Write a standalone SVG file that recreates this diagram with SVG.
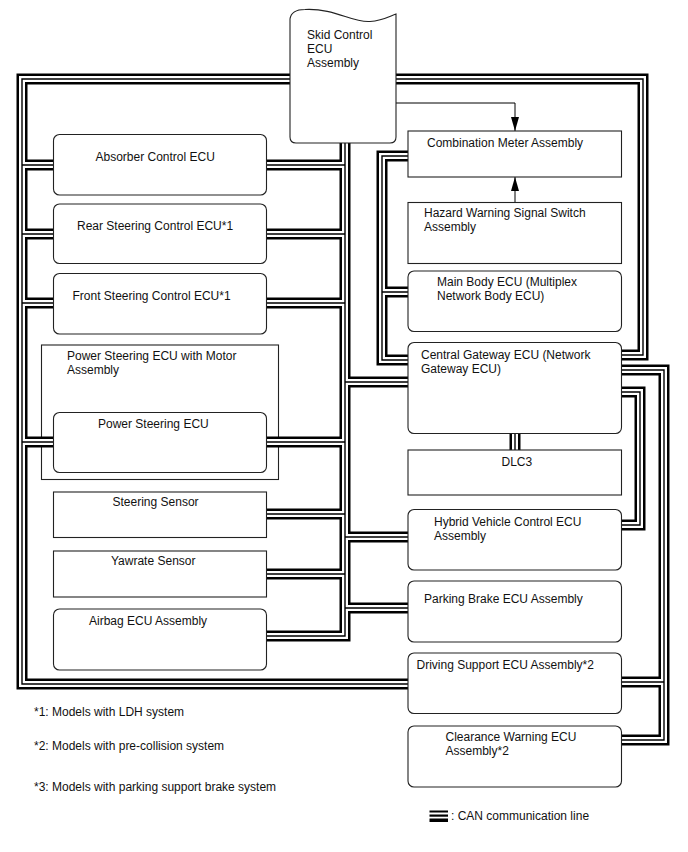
<svg xmlns="http://www.w3.org/2000/svg" width="688" height="852" viewBox="0 0 688 852">
<style>
.box{fill:#fff;stroke:#222;stroke-width:1.1}
.frame{fill:none;stroke:#222;stroke-width:1.1}
text{font-family:"Liberation Sans",Arial,sans-serif;font-size:12px;fill:#111}
.can-o{fill:none;stroke:#000;stroke-width:11;stroke-linejoin:miter;stroke-linecap:butt}
.can-g{fill:none;stroke:#fff;stroke-width:6;stroke-linejoin:miter;stroke-linecap:butt}
.can-c{fill:none;stroke:#000;stroke-width:1.4;stroke-linejoin:miter;stroke-linecap:butt}
.sig{fill:none;stroke:#000;stroke-width:1}
</style>
<defs>
<marker id="ah" viewBox="0 0 14 8" refX="14" refY="4" markerWidth="14" markerHeight="8" markerUnits="userSpaceOnUse" orient="auto">
<path d="M0,0 L14,4 L0,8 Z" fill="#000"/>
</marker>
<g id="bus">
<path d="M410,684 H22 V79 H643 V355 H619"/>
<path d="M22,165 H55 M22,234 H55 M22,303 H55 M22,442 H55"/>
<path d="M345,79 V636 H265"/>
<path d="M345,165 H265 M345,234 H265 M345,303 H265 M345,442 H265 M345,514 H265 M345,574 H265"/>
<path d="M345,382 H410 M345,537 H410 M345,608 H410"/>
<path d="M410,156 H382 V360 H410 M382,292 H410"/>
<path d="M619,370 H664 V740 H619 M619,682 H664"/>
<path d="M619,392 H640 V525 H619"/>
<path d="M515,431 V452"/>
</g>
</defs>

<g id="ps-motor-assembly">
<rect class="frame" x="41.5" y="345" width="237" height="134.5"/>
<text x="67" y="360">Power Steering ECU with Motor</text>
<text x="67" y="374">Assembly</text>
</g>

<g id="connectors">
<use href="#bus" class="can-o"/>
<use href="#bus" class="can-g"/>
<use href="#bus" class="can-c"/>
<path class="sig" d="M396,103 H515 V131" marker-end="url(#ah)"/>
<path class="sig" d="M515,202 V177" marker-end="url(#ah)"/>
</g>

<g id="skid-control">
<path class="box" d="M290,19 C291,12 296,9.5 305,9.5 C335,8 352,23 370,21.5 C383,20.5 390,16 396,14 L396,137 Q396,143 390,143 L296,143 Q290,143 290,137 Z"/>
<text x="307" y="39">Skid Control</text>
<text x="307" y="53">ECU</text>
<text x="307" y="67">Assembly</text>
</g>

<g id="absorber">
<rect class="box" x="53.5" y="134.5" width="213" height="60.5" rx="6"/>
<text x="95.5" y="161">Absorber Control ECU</text>
</g>
<g id="rear-steering">
<rect class="box" x="53.5" y="204" width="213" height="59.5" rx="6"/>
<text x="77" y="230">Rear Steering Control ECU*1</text>
</g>
<g id="front-steering">
<rect class="box" x="53.5" y="273.5" width="213" height="60.5" rx="6"/>
<text x="72.5" y="300">Front Steering Control ECU*1</text>
</g>
<g id="power-steering-ecu">
<rect class="box" x="53.5" y="412.5" width="213" height="60" rx="6"/>
<text x="98" y="428">Power Steering ECU</text>
</g>
<g id="steering-sensor">
<rect class="box" x="53.5" y="492" width="213" height="45.5"/>
<text x="112.5" y="506">Steering Sensor</text>
</g>
<g id="yawrate-sensor">
<rect class="box" x="53.5" y="551" width="213" height="46"/>
<text x="111" y="565">Yawrate Sensor</text>
</g>
<g id="airbag">
<rect class="box" x="53.5" y="609" width="213" height="61" rx="6"/>
<text x="89" y="625">Airbag ECU Assembly</text>
</g>

<g id="combination-meter">
<rect class="box" x="408" y="131" width="213.5" height="46"/>
<text x="427" y="147">Combination Meter Assembly</text>
</g>
<g id="hazard-switch">
<rect class="box" x="408" y="202.5" width="213.5" height="61"/>
<text x="424" y="217">Hazard Warning Signal Switch</text>
<text x="424" y="231">Assembly</text>
</g>
<g id="main-body">
<rect class="box" x="408" y="271" width="213.5" height="60.5" rx="6"/>
<text x="437" y="286">Main Body ECU (Multiplex</text>
<text x="437" y="300">Network Body ECU)</text>
</g>
<g id="central-gateway">
<rect class="box" x="408" y="342.5" width="213.5" height="91" rx="6"/>
<text x="421" y="359">Central Gateway ECU (Network</text>
<text x="421" y="373">Gateway ECU)</text>
</g>
<g id="dlc3">
<rect class="box" x="408" y="450" width="213.5" height="45"/>
<text x="501.5" y="466">DLC3</text>
</g>
<g id="hybrid">
<rect class="box" x="408" y="509.5" width="213.5" height="60.5" rx="6"/>
<text x="434" y="526">Hybrid Vehicle Control ECU</text>
<text x="434" y="540">Assembly</text>
</g>
<g id="parking-brake">
<rect class="box" x="408" y="581" width="213.5" height="61" rx="6"/>
<text x="424" y="603">Parking Brake ECU Assembly</text>
</g>
<g id="driving-support">
<rect class="box" x="408" y="653" width="213.5" height="60.5" rx="6"/>
<text x="416.5" y="669">Driving Support ECU Assembly*2</text>
</g>
<g id="clearance-warning">
<rect class="box" x="408" y="726" width="213.5" height="61" rx="6"/>
<text x="445.5" y="740.5">Clearance Warning ECU</text>
<text x="445.5" y="755">Assembly*2</text>
</g>

<g id="notes">
<text x="34" y="716">*1: Models with LDH system</text>
<text x="34" y="750">*2: Models with pre-collision system</text>
<text x="34" y="791">*3: Models with parking support brake system</text>
</g>
<g id="legend">
<rect x="429.5" y="810.5" width="18.5" height="2" fill="#000"/>
<rect x="429.5" y="814.5" width="18.5" height="2.2" fill="#000"/>
<rect x="429.5" y="818.5" width="18.5" height="3.5" fill="#000"/>
<text x="451" y="819.5">: CAN communication line</text>
</g>
</svg>
